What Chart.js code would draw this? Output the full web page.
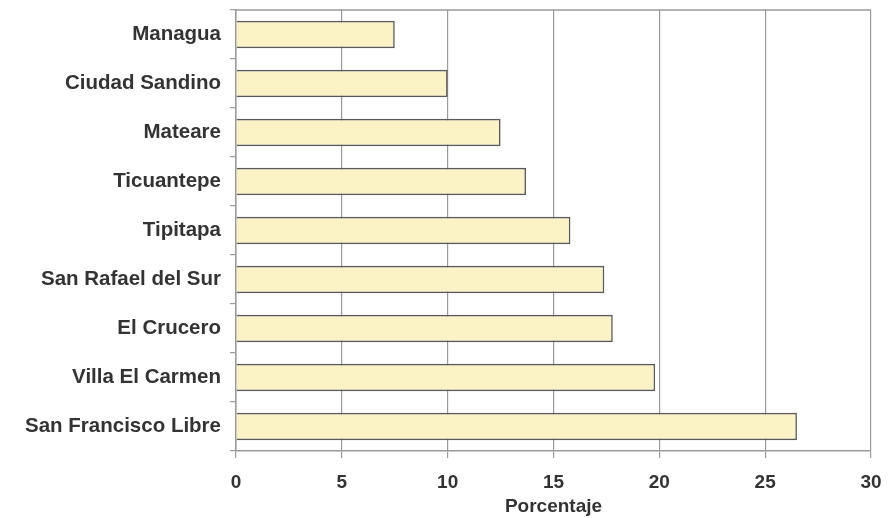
<!DOCTYPE html>
<html><head><meta charset="utf-8">
<script src="https://cdn.jsdelivr.net/npm/chart.js@4"></script>
<style>html,body{margin:0;padding:0;background:#fff}#w{width:891px;height:518px}</style>
</head><body><div id="w"><canvas id="c" width="891" height="518"></canvas></div>
<script>
const categories = ["Managua","Ciudad Sandino","Mateare","Ticuantepe","Tipitapa","San Rafael del Sur","El Crucero","Villa El Carmen","San Francisco Libre"];
const values = [7.5, 10.0, 12.5, 13.7, 15.8, 17.4, 17.8, 19.8, 26.5];
const xTicks = [0,5,10,15,20,25,30];

const topLine = {
  id:'topLine',
  afterDatasetsDraw(chart){
    const {ctx, chartArea:a} = chart;
    ctx.save(); ctx.strokeStyle='#9a9a9a'; ctx.lineWidth=1.5;
    ctx.beginPath(); ctx.moveTo(a.left, a.top); ctx.lineTo(a.right, a.top); ctx.stroke();
    ctx.restore();
  }
};

new Chart(document.getElementById('c'), {
  type:'bar',
  data:{labels:categories, datasets:[{data:values, backgroundColor:'#FBF2C6', borderColor:'#5a5a5a', borderWidth:1.6, barPercentage:0.56, categoryPercentage:1}]},
  options:{
    indexAxis:'y', responsive:false, animation:false,
    layout:{padding:{left:0,right:20,top:10,bottom:0}},
    plugins:{legend:{display:false}, tooltip:{enabled:false}},
    scales:{
      x:{min:0,max:30,
        afterBuildTicks(s){ s.ticks = xTicks.map(v=>({value:v})); },
        afterFit(s){ s.height = 67; s.paddingLeft = 0; s.paddingRight = 0; },
        grid:{color:'#9a9a9a', lineWidth:1.2, tickLength:7, drawTicks:true},
        border:{color:'#9a9a9a', width:1.5},
        ticks:{color:'#333', font:{family:'Liberation Sans, Arial', size:19, weight:'bold'}, padding:13},
        title:{display:true, text:'Porcentaje', color:'#333', font:{family:'Liberation Sans, Arial', size:19, weight:'bold'}, padding:{top:0,bottom:0}}
      },
      y:{
        afterFit(s){ s.width = 236; s.paddingTop = 0; s.paddingBottom = 0; },
        grid:{offset:true, drawOnChartArea:false, drawTicks:true, tickLength:6, color:'#9a9a9a', lineWidth:1.2},
        border:{color:'#9a9a9a', width:1.5},
        ticks:{color:'#333', font:{family:'Liberation Sans, Arial', size:20.5, weight:'bold'}, padding:9}
      }
    }
  },
  plugins:[topLine]
});
</script></body></html>
